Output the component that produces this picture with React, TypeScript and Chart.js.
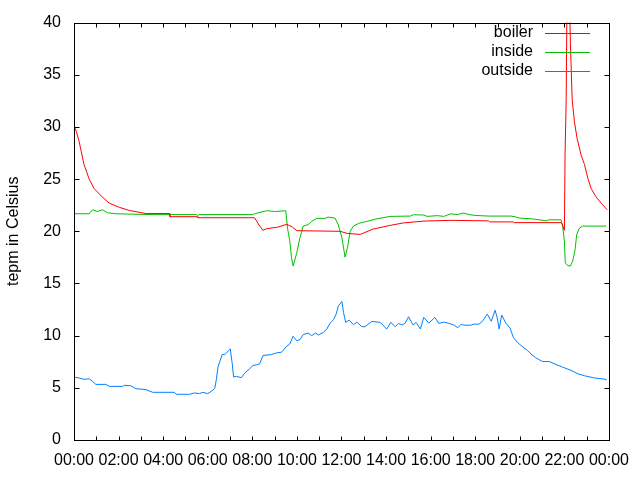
import React, { useEffect, useRef } from "react";
import { Chart, registerables } from "chart.js";

Chart.register(...registerables);

// hours since midnight / temperature in Celsius
const boilerHours = [0, 0.1, 0.23, 0.45, 0.68, 0.9, 1.26, 1.58, 2.03, 2.48, 3.24, 4.28, 4.3, 5.54, 5.56, 7.88, 8.1, 8.3, 8.47, 8.65, 9.14, 9.55, 9.8, 10.0, 11.94, 12.25, 12.84, 13.4, 14.19, 14.77, 15.7, 16.9, 18.6, 18.65, 19.7, 19.75, 21.85, 21.9, 22.0, 22.03, 22.08, 22.13, 22.2, 22.27, 22.35, 22.45, 22.57, 22.75, 22.9, 23.05, 23.2, 23.42, 23.65, 23.92];
const boilerTemps = [30.1, 29.6, 28.6, 26.4, 25.0, 24.1, 23.3, 22.7, 22.3, 22.0, 21.7, 21.7, 21.4, 21.4, 21.3, 21.3, 21.3, 20.6, 20.1, 20.25, 20.4, 20.67, 20.4, 20.06, 20.0, 19.8, 19.7, 20.2, 20.57, 20.8, 20.98, 21.05, 21.0, 20.9, 20.9, 20.83, 20.83, 20.7, 20.1, 27.4, 32.6, 46, 45, 38, 32.6, 30.5, 28.9, 27.3, 26.4, 25.1, 24.1, 23.3, 22.7, 22.06];

const insideHours = [0, 0.68, 0.83, 1.05, 1.28, 1.5, 1.88, 3.5, 5.5, 5.54, 5.6, 8.0, 8.1, 8.64, 9.0, 9.5, 9.58, 9.68, 9.76, 9.83, 9.99, 10.14, 10.28, 10.5, 10.66, 10.89, 11.26, 11.4, 11.71, 11.86, 12.02, 12.16, 12.28, 12.39, 12.54, 12.77, 13.14, 13.59, 14.19, 15.09, 15.23, 15.68, 15.84, 16.29, 16.59, 16.89, 17.19, 17.49, 17.72, 18.0, 18.6, 19.6, 19.8, 19.97, 20.5, 20.95, 21.17, 21.32, 21.85, 21.92, 22.0, 22.04, 22.15, 22.27, 22.37, 22.48, 22.55, 22.67, 22.82, 23.87];
const insideTemps = [21.68, 21.68, 22.06, 21.9, 22.06, 21.78, 21.68, 21.6, 21.6, 21.5, 21.6, 21.6, 21.68, 21.97, 21.9, 21.97, 20.3, 19.05, 17.46, 16.67, 17.9, 19.4, 20.5, 20.63, 20.95, 21.24, 21.24, 21.36, 21.27, 20.6, 19.37, 17.52, 18.57, 20.0, 20.5, 20.76, 20.95, 21.2, 21.43, 21.46, 21.59, 21.56, 21.43, 21.5, 21.43, 21.68, 21.6, 21.75, 21.6, 21.52, 21.46, 21.46, 21.39, 21.27, 21.2, 21.08, 21.0, 21.1, 21.1, 20.5, 19.05, 16.98, 16.7, 16.67, 17.14, 18.25, 19.68, 20.3, 20.5, 20.5];

const outsideHours = [0, 0.23, 0.45, 0.68, 0.83, 0.98, 1.43, 1.58, 2.18, 2.25, 2.55, 2.78, 3.23, 3.53, 4.5, 4.58, 5.18, 5.4, 5.63, 5.78, 6.0, 6.16, 6.31, 6.38, 6.46, 6.53, 6.65, 6.76, 6.83, 6.94, 7.01, 7.1, 7.16, 7.28, 7.51, 7.66, 7.88, 8.03, 8.18, 8.33, 8.48, 8.86, 9.09, 9.31, 9.54, 9.68, 9.83, 9.99, 10.14, 10.28, 10.5, 10.66, 10.84, 10.96, 11.18, 11.34, 11.49, 11.64, 11.76, 11.86, 12.02, 12.09, 12.19, 12.34, 12.54, 12.69, 12.91, 13.06, 13.36, 13.74, 14.03, 14.21, 14.41, 14.56, 14.72, 14.86, 15.01, 15.21, 15.35, 15.54, 15.69, 15.92, 16.19, 16.37, 16.59, 16.82, 17.04, 17.22, 17.37, 17.49, 17.79, 17.94, 18.17, 18.32, 18.54, 18.72, 18.89, 18.99, 19.07, 19.19, 19.37, 19.56, 19.71, 19.82, 19.97, 20.19, 20.35, 20.5, 20.72, 21.02, 21.32, 21.62, 21.92, 22.3, 22.6, 22.9, 23.35, 23.8, 23.9];
const outsideTemps = [6.03, 5.94, 5.81, 5.87, 5.62, 5.33, 5.33, 5.14, 5.14, 5.24, 5.2, 4.92, 4.83, 4.57, 4.57, 4.38, 4.38, 4.51, 4.45, 4.57, 4.44, 4.67, 4.92, 5.71, 6.98, 7.46, 8.19, 8.19, 8.32, 8.57, 8.73, 7.3, 6.03, 6.1, 5.97, 6.41, 6.83, 7.14, 7.2, 7.3, 8.1, 8.19, 8.35, 8.41, 8.98, 9.2, 9.94, 9.52, 9.62, 10.1, 10.25, 10.0, 10.25, 10.06, 10.3, 10.63, 11.2, 11.52, 12.06, 12.86, 13.27, 12.22, 11.27, 11.49, 11.05, 11.3, 10.86, 10.86, 11.37, 11.27, 10.63, 11.27, 10.86, 11.17, 11.02, 11.2, 11.81, 11.02, 11.27, 10.63, 11.75, 11.2, 11.75, 11.17, 11.3, 11.17, 11.02, 10.76, 11.1, 11.0, 11.0, 11.1, 11.1, 11.37, 12.06, 11.37, 12.44, 11.68, 10.63, 11.97, 11.2, 10.73, 9.84, 9.52, 9.2, 8.83, 8.57, 8.25, 7.87, 7.52, 7.52, 7.24, 6.98, 6.67, 6.35, 6.16, 5.94, 5.84, 5.75];

const seriesNames = ["boiler", "inside", "outside"];
const seriesColors = ["#ff0000", "#00c000", "#0080ff"];
const yTitle = "tepm in Celsius";
const xMin = 0, xMax = 24, xLabelStep = 2, xTickStep = 1;
const yMin = 0, yMax = 40, yStep = 5;

const FONT = "'Liberation Sans', Arial, sans-serif";
const FONT_SIZE = 16;

const toPoints = (hs: number[], vs: number[]) => hs.map((h, i) => ({ x: h, y: vs[i] }));

const gnuplotFrame = {
  id: "gnuplotFrame",
  afterDraw(chart: any) {
    const { ctx, chartArea: a, scales } = chart;
    const xs = scales.x, ys = scales.y;
    ctx.save();
    ctx.strokeStyle = "#000";
    ctx.lineWidth = 1;
    const L = Math.round(a.left) + 0.5, R = Math.round(a.right) + 0.5;
    const T = Math.round(a.top) + 0.5, B = Math.round(a.bottom) + 0.5;
    ctx.beginPath();
    for (let h = xMin; h <= xMax; h += xTickStep) {
      const px = Math.round(xs.getPixelForValue(h)) + 0.5;
      ctx.moveTo(px, B); ctx.lineTo(px, B - 4);
      ctx.moveTo(px, T); ctx.lineTo(px, T + 4);
    }
    for (let v = yMin; v <= yMax; v += yStep) {
      const py = Math.round(ys.getPixelForValue(v)) + 0.5;
      ctx.moveTo(L, py); ctx.lineTo(L + 5, py);
      ctx.moveTo(R, py); ctx.lineTo(R - 5, py);
    }
    ctx.stroke();
    ctx.strokeRect(L, T, R - L, B - T);

    // y title
    ctx.fillStyle = "#000";
    ctx.font = `${FONT_SIZE}px ${FONT}`;
    ctx.textAlign = "center";
    ctx.textBaseline = "middle";
    ctx.save();
    ctx.translate(14, (a.top + a.bottom) / 2);
    ctx.rotate(-Math.PI / 2);
    ctx.fillText(yTitle, 0, 0);
    ctx.restore();

    // legend
    ctx.textAlign = "right";
    seriesNames.forEach((name, i) => {
      const y = 33 + i * 19;
      ctx.fillStyle = "#000";
      ctx.fillText(name, 533, y);
      ctx.strokeStyle = seriesColors[i];
      ctx.beginPath();
      ctx.moveTo(545, y + 0.5);
      ctx.lineTo(590, y + 0.5);
      ctx.stroke();
    });
    ctx.restore();
  },
};

export default function App() {
  const ref = useRef<HTMLCanvasElement | null>(null);
  useEffect(() => {
    if (!ref.current) return;
    const series = [
      toPoints(boilerHours, boilerTemps),
      toPoints(insideHours, insideTemps),
      toPoints(outsideHours, outsideTemps),
    ];
    const chart = new Chart(ref.current, {
      type: "line",
      data: {
        datasets: series.map((d, i) => ({
          label: seriesNames[i],
          data: d,
          borderColor: seriesColors[i],
          backgroundColor: seriesColors[i],
          borderWidth: 1,
          pointRadius: 0,
          tension: 0,
          fill: false,
        })),
      },
      options: {
        animation: false,
        responsive: false,
        devicePixelRatio: 1,
        layout: { padding: { top: 21, right: 31, left: 0, bottom: 0 } },
        plugins: { legend: { display: false }, tooltip: { enabled: false } },
        scales: {
          x: {
            type: "linear",
            min: xMin,
            max: xMax,
            grid: { display: false, drawTicks: false },
            border: { display: false },
            afterFit: (s: any) => { s.height = 40; },
            ticks: {
              stepSize: xLabelStep,
              padding: 11,
              color: "#000",
              maxRotation: 0,
              autoSkip: false,
              font: { family: FONT, size: FONT_SIZE },
              callback: (v: any) => String(Number(v) % 24).padStart(2, "0") + ":00",
            },
          },
          y: {
            type: "linear",
            min: yMin,
            max: yMax,
            grid: { display: false, drawTicks: false },
            border: { display: false },
            afterFit: (s: any) => { s.width = 74; },
            ticks: {
              stepSize: yStep,
              padding: 13,
              color: "#000",
              font: { family: FONT, size: FONT_SIZE },
            },
          },
        },
      },
      plugins: [gnuplotFrame],
    });
    return () => chart.destroy();
  }, []);
  return (
    <div style={{ position: "fixed", left: 0, top: 0, width: 640, height: 480, background: "#fff" }}>
      <canvas ref={ref} width={640} height={480} />
    </div>
  );
}
